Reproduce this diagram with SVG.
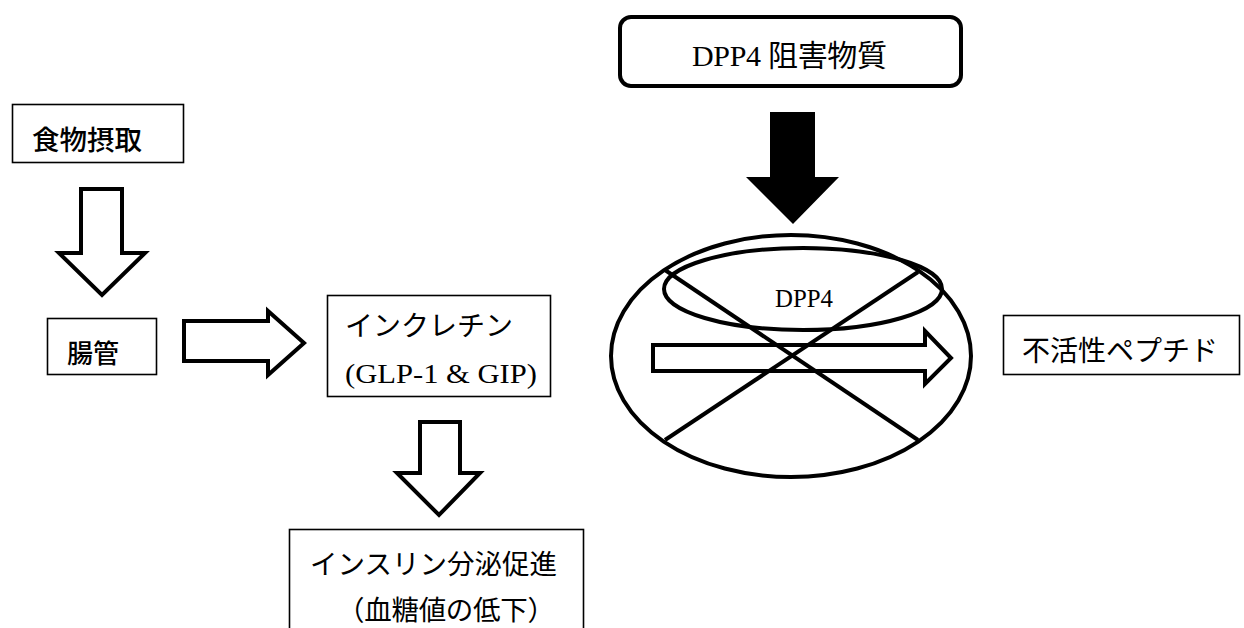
<svg xmlns="http://www.w3.org/2000/svg" width="1244" height="628" viewBox="0 0 1244 628">
<style>
.box{fill:#fff;stroke:#000;stroke-width:1.6}
.hollow{fill:#fff;stroke:#000;stroke-width:4;stroke-linejoin:miter}
.solid{fill:#000;stroke:none}
.ring{fill:none;stroke:#000;stroke-width:4}
.goth{font-family:"Noto Sans CJK JP","Noto Sans",sans-serif;font-weight:500;fill:#000}
.min{font-family:"Liberation Serif","Noto Sans CJK JP",serif;fill:#000}
</style>
<rect width="1244" height="628" fill="#fff"/>
<g id="node-food">
<rect class="box" x="12.5" y="104.5" width="171" height="58"/>
<text class="goth" x="32" y="150" font-size="27.5">食物摂取</text>
</g>
<g id="node-gut">
<rect class="box" x="47.5" y="318.5" width="109" height="56"/>
<text class="goth" x="67" y="363" font-size="26">腸管</text>
</g>
<g id="node-incretin">
<rect class="box" x="327.5" y="295.5" width="223" height="101"/>
<text class="min" x="345" y="336" font-size="28" textLength="168">インクレチン</text>
<text class="min" x="345" y="383" font-size="28" textLength="192" lengthAdjust="spacingAndGlyphs">(GLP-1 &amp; GIP)</text>
</g>
<g id="node-insulin">
<rect class="box" x="289.5" y="529.5" width="294" height="110"/>
<text class="min" x="310" y="574" font-size="27.5" textLength="247">インスリン分泌促進</text>
<text class="min" x="337" y="620" font-size="27.5" textLength="218">（血糖値の低下）</text>
</g>
<g id="node-inhibitor">
<rect x="620" y="17" width="341" height="69" rx="11" fill="#fff" stroke="#000" stroke-width="4"/>
<text class="min" x="692" y="66" font-size="30" textLength="195">DPP4 阻害物質</text>
</g>
<g id="node-dpp4">
<ellipse class="ring" cx="791" cy="356" rx="180" ry="121"/>
<ellipse class="ring" cx="803" cy="289" rx="139" ry="41"/>
<text class="min" x="775" y="307" font-size="25" textLength="58" lengthAdjust="spacingAndGlyphs">DPP4</text>
</g>
<g id="node-inactive">
<rect class="box" x="1003.5" y="315.5" width="236" height="59"/>
<text class="min" x="1022" y="361" font-size="28" textLength="196">不活性ペプチド</text>
</g>
<g id="connectors">
<polygon class="hollow" points="81,189 122,189 122,253 145,253 102,295 59,253 81,253"/>
<polygon class="hollow" points="184,321 268,321 268,311 304,343 268,375 268,361 184,361"/>
<polygon class="hollow" points="420,422 460,422 460,473 480,473 439,515 397,473 420,473"/>
<polygon class="solid" points="770,112 815,112 815,177 839,177 793,224 746,177 770,177"/>
<polygon class="hollow" points="653,345 925,345 925,331 951,358 925,384 925,371 653,371"/>
<line x1="665" y1="270" x2="918" y2="440" stroke="#000" stroke-width="4"/>
<line x1="918" y1="272" x2="665" y2="440" stroke="#000" stroke-width="4"/>
</g>
</svg>
